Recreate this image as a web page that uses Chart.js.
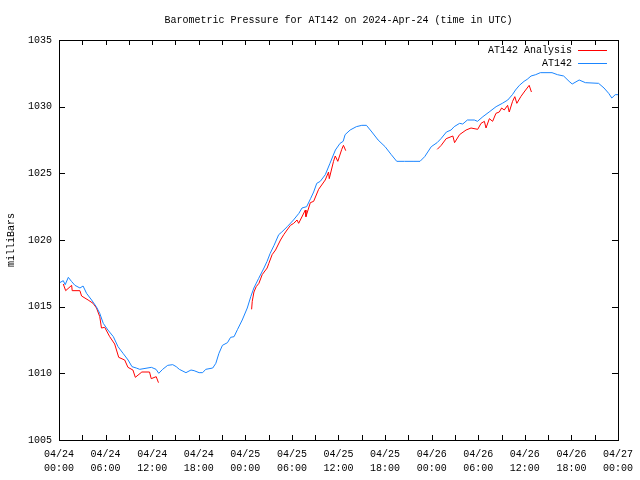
<!DOCTYPE html>
<html>
<head>
<meta charset="utf-8">
<script src="https://cdn.jsdelivr.net/npm/chart.js@4.4.1/dist/chart.umd.min.js"></script>
<style>
  html, body { margin: 0; padding: 0; background: #fff; }
  canvas { display: block; }
</style>
</head>
<body>
<canvas id="pressureChart" width="640" height="480"></canvas>
<script>
const MONO = "'Liberation Mono', 'DejaVu Sans Mono', monospace";

// Hours since 2024-04-24 00:00 UTC
const stationHours = [
  0.1, 0.55, 0.8, 1.2, 1.6, 2.05, 2.7, 3.1, 3.55, 4.2, 4.8, 5.25, 5.7, 6.3, 7.0, 7.6, 8.25, 8.9,
  9.4, 9.95, 10.4, 11.9, 12.5, 12.85, 13.35, 14.0, 14.65, 15.1, 15.5, 16.35, 17.0, 17.4, 18.05,
  18.5, 18.9, 19.8, 20.2, 20.6, 21.05, 21.7, 22.1, 22.55, 23.0, 23.6, 24.25, 24.7, 25.1, 25.7,
  26.4, 26.8, 27.2, 27.7, 28.3, 28.7, 29.4, 30.2, 30.9, 31.3, 31.9, 32.4, 32.8, 33.2, 33.65,
  34.3, 34.9, 35.6, 36.2, 36.6, 36.85, 37.5, 38.3, 39.0, 39.6, 40.3, 41.1, 42.0, 42.8, 43.5,
  44.5, 45.6, 46.5, 47.1, 47.95, 48.7, 49.2, 49.9, 50.5, 50.9, 51.6, 52.0, 52.6, 53.5, 53.9,
  54.6, 55.4, 56.3, 57.1, 57.8, 58.4, 58.8, 59.3, 59.9, 60.3, 60.8, 61.4, 62.0, 63.5, 64.2,
  65.0, 65.7, 66.1, 67.0, 67.8, 69.5, 70.2, 70.8, 71.2, 71.65, 72.0
];
const stationValues = [
  1016.8, 1016.95, 1016.65, 1017.2, 1016.9, 1016.6, 1016.4, 1016.55, 1016.0, 1015.5, 1015.0, 1014.5, 1013.75, 1013.25, 1012.75, 1012.0, 1011.5, 1011.0,
  1010.5, 1010.4, 1010.3, 1010.45, 1010.3, 1010.0, 1010.3, 1010.6, 1010.65, 1010.5, 1010.3, 1010.05, 1010.25, 1010.2, 1010.05,
  1010.05, 1010.3, 1010.4, 1010.75, 1011.5, 1012.1, 1012.3, 1012.7, 1012.75, 1013.3, 1014.0, 1014.9, 1015.75, 1016.4, 1017.1,
  1017.9, 1018.4, 1019.0, 1019.6, 1020.4, 1020.6, 1021.0, 1021.5, 1022.0, 1022.4, 1022.5, 1023.1, 1023.6, 1024.25, 1024.4,
  1024.9, 1025.75, 1026.75, 1027.25, 1027.4, 1027.9, 1028.25, 1028.5, 1028.6, 1028.6, 1028.1, 1027.5, 1027.0, 1026.4, 1025.9,
  1025.9, 1025.9, 1025.9, 1026.25, 1027.0, 1027.3, 1027.6, 1028.1, 1028.25, 1028.5, 1028.75, 1028.7, 1029.0, 1029.0, 1028.9,
  1029.25, 1029.6, 1030.0, 1030.25, 1030.5, 1030.9, 1031.25, 1031.6, 1031.9, 1032.05, 1032.3, 1032.4, 1032.55, 1032.55, 1032.4,
  1032.3, 1031.9, 1031.7, 1032.0, 1031.8, 1031.75, 1031.4, 1031.0, 1030.65, 1030.9, 1030.9
];

// Analysis series, null entries break the line between runs
const analysisHours = [
  0.55, 0.86, 1.63, 1.7, 2.69, 2.91, 3.75, 4.39, 4.83, 5.25, 5.47, 5.89, 6.53, 7.17, 7.69, 8.46,
  8.88, 9.52, 9.83, 10.67, 11.66, 11.88, 12.52, 12.81,
  18,
  24.81, 24.89, 25.11, 25.4, 25.75, 26.17, 26.81, 27.03, 27.45, 27.89, 28.53, 28.95, 29.37, 29.81,
  30.23, 30.66, 30.87, 31.73, 31.81, 32.37, 32.8, 33.44, 34.29, 34.72, 34.81, 35.36, 35.58, 35.91,
  36.42, 36.64, 36.93,
  43,
  48.72, 49.23, 49.87, 50.73, 50.95, 51.59, 52.43, 53.07, 53.93, 54.36, 54.79, 55.0, 55.43, 55.85,
  56.28, 56.71, 57.01, 57.35, 57.78, 57.99, 58.42, 58.71, 58.97, 59.48, 59.91, 60.56, 60.85
];
const analysisValues = [
  1016.7, 1016.2, 1016.6, 1016.2, 1016.2, 1015.8, 1015.5, 1015.25, 1014.9, 1014.25, 1013.4, 1013.45, 1012.75, 1012.2, 1011.2, 1011.0,
  1010.45, 1010.25, 1009.7, 1010.1, 1010.1, 1009.6, 1009.75, 1009.3,
  null,
  1014.8, 1015.4, 1016.1, 1016.5, 1016.75, 1017.4, 1017.9, 1018.25, 1018.9, 1019.25, 1020.0, 1020.4, 1020.75, 1021.1,
  1021.25, 1021.5, 1021.25, 1022.25, 1021.75, 1022.8, 1022.9, 1023.8, 1024.5, 1025.1, 1024.6, 1025.9, 1026.3, 1025.9,
  1026.8, 1027.1, 1026.7,
  null,
  1026.8, 1027.1, 1027.6, 1027.8, 1027.3, 1027.9, 1028.25, 1028.4, 1028.3, 1028.75, 1028.9, 1028.4, 1029.1, 1028.9,
  1029.5, 1029.6, 1029.9, 1029.75, 1030.1, 1029.6, 1030.4, 1030.75, 1030.25, 1030.75, 1031.1, 1031.6, 1031.1
];

// Tick labels every 6 hours
const xTickLabels = [
  ["04/24", "00:00"], ["04/24", "06:00"], ["04/24", "12:00"], ["04/24", "18:00"],
  ["04/25", "00:00"], ["04/25", "06:00"], ["04/25", "12:00"], ["04/25", "18:00"],
  ["04/26", "00:00"], ["04/26", "06:00"], ["04/26", "12:00"], ["04/26", "18:00"],
  ["04/27", "00:00"]
];

const toPoints = (xs, ys) => xs.map((x, i) => ({ x: x, y: ys[i] }));

// Title, frame with inward ticks, and gnuplot-style legend
const gnuplotLook = {
  id: "gnuplotLook",
  afterDraw(chart) {
    const ctx = chart.ctx;
    const area = chart.chartArea;
    const xs = chart.scales.x;
    const ys = chart.scales.y;
    ctx.save();

    ctx.fillStyle = "#000";
    ctx.font = "10px " + MONO;
    ctx.textAlign = "center";
    ctx.textBaseline = "middle";
    ctx.fillText("Barometric Pressure for AT142 on 2024-Apr-24 (time in UTC)", (area.left + area.right) / 2, 20);

    ctx.strokeStyle = "#000";
    ctx.lineWidth = 1;
    ctx.beginPath();
    for (let h = 0; h <= 72; h += 3) {
      const px = Math.round(xs.getPixelForValue(h)) + 0.5;
      ctx.moveTo(px, area.bottom);
      ctx.lineTo(px, area.bottom - 5);
      ctx.moveTo(px, area.top);
      ctx.lineTo(px, area.top + 5);
    }
    ys.ticks.forEach(t => {
      const py = Math.round(ys.getPixelForValue(t.value)) + 0.5;
      ctx.moveTo(area.left, py);
      ctx.lineTo(area.left + 6, py);
      ctx.moveTo(area.right, py);
      ctx.lineTo(area.right - 6, py);
    });
    ctx.stroke();
    ctx.strokeRect(Math.round(area.left) + 0.5, Math.round(area.top) + 0.5,
      Math.round(area.right - area.left), Math.round(area.bottom - area.top));

    // legend
    ctx.textAlign = "right";
    chart.data.datasets.forEach((ds, i) => {
      const y = area.top + 10 + i * 13;
      ctx.fillStyle = "#000";
      ctx.fillText(ds.label, area.right - 46, y);
      ctx.strokeStyle = ds.borderColor;
      ctx.beginPath();
      ctx.moveTo(area.right - 40, y + 0.5);
      ctx.lineTo(area.right - 11, y + 0.5);
      ctx.stroke();
    });
    ctx.restore();
  }
};

new Chart(document.getElementById("pressureChart"), {
  type: "line",
  data: {
    datasets: [
      {
        label: "AT142 Analysis",
        data: toPoints(analysisHours, analysisValues),
        borderColor: "#ff0000",
        borderWidth: 1,
        pointRadius: 0,
        spanGaps: false,
        order: 1
      },
      {
        label: "AT142",
        data: toPoints(stationHours, stationValues),
        borderColor: "#1a85ff",
        borderWidth: 1,
        pointRadius: 0,
        order: 0
      }
    ]
  },
  options: {
    responsive: false,
    animation: false,
    devicePixelRatio: 1,
    layout: { padding: { top: 40, right: 19, left: 0, bottom: 0 } },
    plugins: {
      legend: { display: false },
      title: { display: false },
      tooltip: { enabled: false }
    },
    scales: {
      x: {
        type: "linear",
        min: 0,
        max: 72,
        grid: { display: false, drawTicks: false },
        border: { display: false },
        ticks: {
          stepSize: 6,
          autoSkip: false,
          maxRotation: 0,
          padding: 7,
          color: "#000",
          font: { family: MONO, size: 10, lineHeight: 1.4 },
          callback: value => xTickLabels[Math.round(value / 6)]
        },
        afterFit: scale => { scale.height = 40; }
      },
      y: {
        min: 1005,
        max: 1035,
        grid: { display: false, drawTicks: false },
        border: { display: false },
        ticks: {
          stepSize: 5,
          padding: 7,
          color: "#000",
          font: { family: MONO, size: 10 },
          callback: value => String(value)
        },
        title: {
          display: true,
          text: "milliBars",
          color: "#000",
          font: { family: MONO, size: 10, lineHeight: 1.2 },
          padding: { top: 5, bottom: 0 }
        },
        afterFit: scale => { scale.width = 59; }
      }
    }
  },
  plugins: [gnuplotLook]
});
</script>
</body>
</html>
